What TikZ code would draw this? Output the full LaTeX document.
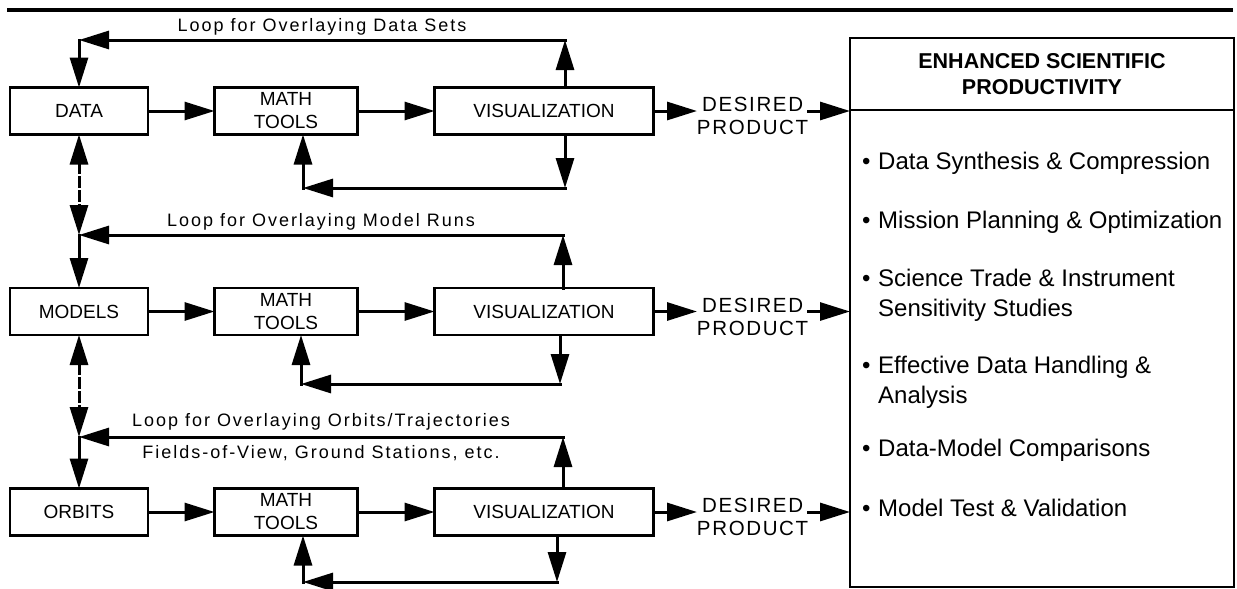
\documentclass[tikz,border=0pt]{standalone}
\usepackage{fontspec}
\setmainfont{Liberation Sans}
\newfontfamily\loopfont{Liberation Sans}[LetterSpace=11]
\newfontfamily\wantfont{Liberation Sans}[LetterSpace=8]
\usetikzlibrary{arrows.meta,chains,matrix,positioning,scopes}
\tikzset{>={Triangle[length=30pt,width=18pt]},
	flow/.style={line width=3pt,line cap=rect},
	every join/.style={->,flow},
	box/.style={draw,line width=2.5pt,minimum height=47pt,inner sep=2pt,align=center,
		font=\fontsize{19}{23}\selectfont},
	srcbox/.style={box,minimum width=138pt},
	toolbox/.style={box,minimum width=143pt},
	visbox/.style={box,minimum width=219pt},
	want/.style={inner sep=0pt,yshift=-5pt,align=center,font=\wantfont\fontsize{20.5}{23}\selectfont},
	looplabel/.style={inner sep=3pt,font=\loopfont\fontsize{18}{21}\selectfont},
	gainbox/.style={draw,line width=2.5pt,minimum width=384pt,outer sep=0pt},
	gainitem/.style={anchor=west,inner sep=0pt,align=left,font=\fontsize{24}{30}\selectfont}}
\newcommand{\gaindot}{\makebox[16pt][l]{\textbullet}}
\newcommand{\gainindent}{\hspace*{16pt}}

\begin{document}
\begin{tikzpicture}[x=1pt,y=-1pt]
	\useasboundingbox (0,0) rectangle (1237,589);
	\draw[line width=4pt] (7,10) -- (1233,10);
	\matrix (m) [anchor=north west, inner sep=0pt, outer sep=0pt,
		column sep=64pt, row sep=151pt, nodes={anchor=center}] at (8.75,86.25)
	{
		\node[srcbox] (data) {DATA}; & \node[toolbox] (math1) {MATH\\TOOLS}; &[10.5pt]
		\node[visbox] (vis1) {VISUALIZATION}; &[-21.75pt] \node[want] (want1) {DESIRED\\PRODUCT};
		\\
		\node[srcbox] (models) {MODELS}; & \node[toolbox] (math2) {MATH\\TOOLS}; &[10.5pt]
		\node[visbox] (vis2) {VISUALIZATION}; &[-21.75pt] \node[want] (want2) {DESIRED\\PRODUCT};
		\\
		\node[srcbox] (orbits) {ORBITS}; & \node[toolbox] (math3) {MATH\\TOOLS}; &[10.5pt]
		\node[visbox] (vis3) {VISUALIZATION}; &[-21.75pt] \node[want] (want3) {DESIRED\\PRODUCT};
		\\
	};
	\node[gainbox,minimum height=72pt,align=center,font=\bfseries\fontsize{21.5}{26}\selectfont]
		(gainhead) at (1042,74) {ENHANCED SCIENTIFIC\\PRODUCTIVITY};
	\node[gainbox,minimum height=477pt,below=0pt of gainhead] (gainbody) {};
	\node[gainitem] (gain1) at (862,163) {\gaindot Data Synthesis \& Compression};
	\node[gainitem] (gain2) at (862,222) {\gaindot Mission Planning \& Optimization};
	\node[gainitem] (gain3) at (862,295) {\gaindot Science Trade \& Instrument\\\gainindent Sensitivity Studies};
	\node[gainitem] (gain4) at (862,382) {\gaindot Effective Data Handling \&\\\gainindent Analysis};
	\node[gainitem] (gain5) at (862,450) {\gaindot Data-Model Comparisons};
	\node[gainitem] (gain6) at (862,508) {\gaindot Model Test \& Validation};

	\coordinate (lp1w) at (79,40);  \coordinate (lp1e) at (565,40);
	\coordinate (fb1e) at (565,188); \coordinate (fb1w) at (303,188);
	\coordinate (lp2w) at (79,235); \coordinate (lp2e) at (563,235);
	\coordinate (fb2e) at (560,384); \coordinate (fb2w) at (301,384);
	\coordinate (lp3w) at (79,437); \coordinate (lp3e) at (563,437);
	\coordinate (fb3e) at (557,582); \coordinate (fb3w) at (303,582);

	{ [start chain]
		\chainin (data);
		\chainin (math1) [join];
		\chainin (vis1) [join];
	}
	{ [start chain]
		\chainin (models);
		\chainin (math2) [join];
		\chainin (vis2) [join];
	}
	{ [start chain]
		\chainin (orbits);
		\chainin (math3) [join];
		\chainin (vis3) [join];
	}
	\draw[->,flow] (vis1) -- (vis1 -| want1.west);
	\draw[->,flow] (vis1 -| want1.east) -- (vis1 -| gainhead.west);
	\draw[->,flow] (vis2) -- (vis2 -| want2.west);
	\draw[->,flow] (vis2 -| want2.east) -- (vis2 -| gainbody.west);
	\draw[->,flow] (vis3) -- (vis3 -| want3.west);
	\draw[->,flow] (vis3 -| want3.east) -- (vis3 -| gainbody.west);

	% overlay loops
	\draw[->,flow] (vis1.north -| lp1e) -- (lp1e);
	\draw[->,flow] (lp1e) -- (lp1w) node[looplabel,midway,above] (lp1lab) {Loop for Overlaying Data Sets};
	\draw[->,flow] (lp1w) -- (data);
	\draw[<->,flow,dash pattern=on 9pt off 5pt] (data) -- (lp2w);
	\draw[->,flow] (vis2.north -| lp2e) -- (lp2e);
	\draw[->,flow] (lp2e) -- (lp2w) node[looplabel,midway,above] (lp2lab) {Loop for Overlaying Model Runs};
	\draw[->,flow] (lp2w) -- (models);
	\draw[<->,flow,dash pattern=on 9pt off 5pt] (models) -- (lp3w);
	\draw[->,flow] (vis3.north -| lp3e) -- (lp3e);
	\draw[->,flow] (lp3e) -- (lp3w)
		node[looplabel,midway,above,inner sep=5pt] (lp3lab) {Loop for Overlaying Orbits/Trajectories}
		node[looplabel,midway,below,inner sep=7pt] (lp3sub) {Fields-of-View, Ground Stations, etc.};
	\draw[->,flow] (lp3w) -- (orbits);

	% back to the math tools
	\draw[->,flow] (vis1.south -| fb1e) -- (fb1e);
	\draw[->,flow] (fb1e) -- (fb1w);
	\draw[->,flow] (fb1w) -- (math1.south -| fb1w);
	\draw[->,flow] (vis2.south -| fb2e) -- (fb2e);
	\draw[->,flow] (fb2e) -- (fb2w);
	\draw[->,flow] (fb2w) -- (math2.south -| fb2w);
	\draw[->,flow] (vis3.south -| fb3e) -- (fb3e);
	\draw[->,flow] (fb3e) -- (fb3w);
	\draw[->,flow] (fb3w) -- (math3.south -| fb3w);
\end{tikzpicture}
\end{document}
